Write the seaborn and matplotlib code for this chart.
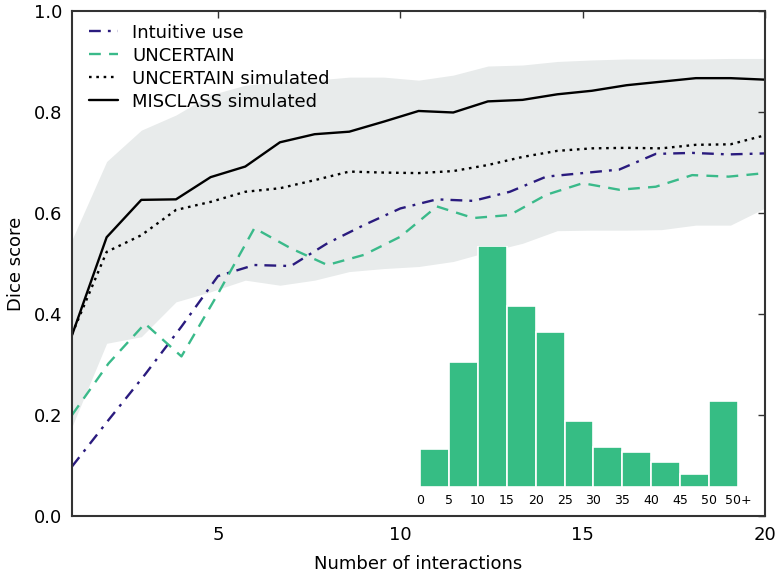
import numpy as np
import pandas as pd
import matplotlib
matplotlib.use('Agg')
import matplotlib.pyplot as plt
import seaborn as sns

# user study curves, one value per interaction count
interactions = list(range(1, 21))
intuitive_use = [0.098, 0.19, 0.28, 0.375, 0.475, 0.497, 0.495, 0.54, 0.576, 0.609,
                 0.627, 0.624, 0.642, 0.672, 0.679, 0.686, 0.717, 0.719, 0.716, 0.718]
uncertain = [0.200, 0.302, 0.381, 0.316, 0.44, 0.570, 0.530, 0.497, 0.517, 0.553,
             0.613, 0.590, 0.596, 0.636, 0.659, 0.646, 0.652, 0.675, 0.672, 0.679]

# simulated curves sampled on a finer grid
sim_x = list(np.linspace(1, 20, 21))
uncertain_sim = [0.36, 0.523, 0.556, 0.606, 0.622, 0.642, 0.649, 0.665, 0.682, 0.680, 0.679,
                 0.683, 0.695, 0.711, 0.723, 0.728, 0.729, 0.728, 0.735, 0.736, 0.754]
misclass_sim = [0.358, 0.552, 0.626, 0.627, 0.671, 0.692, 0.740, 0.756, 0.761, 0.781, 0.802,
                0.799, 0.821, 0.824, 0.835, 0.842, 0.853, 0.860, 0.867, 0.867, 0.864]
band_low = [0.177, 0.342, 0.355, 0.424, 0.444, 0.467, 0.457, 0.467, 0.484, 0.490, 0.494,
            0.504, 0.523, 0.540, 0.565, 0.566, 0.566, 0.567, 0.576, 0.576, 0.610]
band_high = [0.547, 0.702, 0.764, 0.794, 0.834, 0.853, 0.860, 0.863, 0.869, 0.869, 0.863,
             0.873, 0.891, 0.893, 0.900, 0.903, 0.905, 0.905, 0.905, 0.906, 0.906]

# histogram of interactions needed (inset)
hist_bins = [0, 5, 10, 15, 20, 25, 30, 35, 40, 45, 50]
hist_heights = [3.74, 12.5, 24.0, 18.07, 15.4, 6.6, 4.0, 3.47, 2.5, 1.3, 8.57]
hist_labels = ['0', '5', '10', '15', '20', '25', '30', '35', '40', '45', '50', '50+']

PURPLE = '#2a1b7e'
GREEN = '#3aba8a'
BAR = '#36bd84'


def main():
    fig = plt.figure(figsize=(7.8, 5.75), dpi=100)
    ax = fig.add_axes([0.0923, 0.1026, 0.8887, 0.8783])

    ax.fill_between(sim_x, band_low, band_high, color='#e8ebeb', linewidth=0, zorder=0)

    sns.lineplot(x=interactions, y=intuitive_use, ax=ax, color=PURPLE, linestyle=(0, (5, 3, 1.2, 3)),
                 linewidth=1.7, label='Intuitive use')
    sns.lineplot(x=interactions, y=uncertain, ax=ax, color=GREEN, linestyle=(0, (5, 3.5)),
                 linewidth=1.7, label='UNCERTAIN')
    sns.lineplot(x=sim_x, y=uncertain_sim, ax=ax, color='black', linestyle=(0, (1.1, 2)),
                 linewidth=1.7, label='UNCERTAIN simulated')
    sns.lineplot(x=sim_x, y=misclass_sim, ax=ax, color='black', linestyle='-',
                 linewidth=1.7, label='MISCLASS simulated')

    ax.set_xlim(1, 20)
    ax.set_ylim(0, 1.0)
    ax.set_xticks([5, 10, 15, 20])
    ax.set_yticks([0.0, 0.2, 0.4, 0.6, 0.8, 1.0])
    ax.set_yticklabels(['0.0', '0.2', '0.4', '0.6', '0.8', '1.0'])
    ax.tick_params(direction='in', top=True, right=True, length=5, width=1,
                   labelsize=13, pad=7, color='#333333', labelcolor='black')
    for sp in ax.spines.values():
        sp.set_linewidth(1.5)
        sp.set_color('#333333')
    ax.set_xlabel('Number of interactions', fontsize=13, labelpad=8, color='black')
    ax.set_ylabel('Dice score', fontsize=13, labelpad=6, color='black')

    leg = ax.legend(loc='upper left', bbox_to_anchor=(0.006, 1.0), frameon=False, fontsize=13,
                    handlelength=1.6, handletextpad=0.8, labelspacing=0.28, borderaxespad=0.3)
    for t in leg.get_texts():
        t.set_color('black')

    # inset histogram
    ins = fig.add_axes([0.5385, 0.153, 0.4077, 0.419])
    ins.patch.set_alpha(0)
    hist_df = pd.DataFrame({'bin': hist_bins, 'height': hist_heights})
    sns.histplot(data=hist_df, x='bin', weights='height', bins=list(range(0, 60, 5)),
                 ax=ins, color=BAR, alpha=1, edgecolor='white', linewidth=1.2)
    ins.set_xlim(0, 55)
    ins.set_ylim(0, 24.0)
    ins.set_xticks(list(range(0, 60, 5)))
    ins.set_xticklabels(hist_labels)
    ins.set_yticks([])
    ins.set_xlabel('')
    ins.set_ylabel('')
    ins.tick_params(axis='x', length=0, labelsize=9, pad=5, labelcolor='black')
    for sp in ins.spines.values():
        sp.set_visible(False)

    fig.savefig('out.png', dpi=100)


if __name__ == '__main__':
    sns.set_theme(style='white')
    plt.rcParams['font.family'] = ['DejaVu Sans']
    main()
